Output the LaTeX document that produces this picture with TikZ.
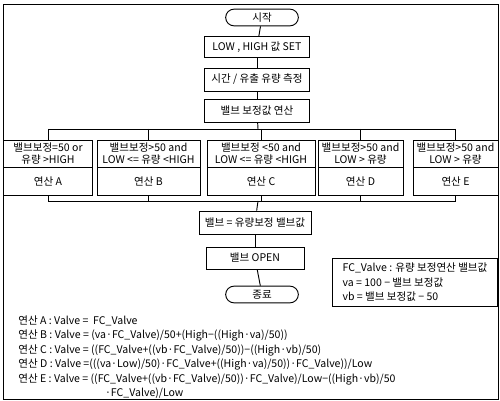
\documentclass[tikz,border=0pt]{standalone}
\usepackage{fontspec}
\setmainfont{Noto Sans CJK KR}
\usetikzlibrary{positioning,shapes.misc,calc}
\tikzset{myboxes/.style={draw,rectangle,inner sep=1pt,align=center,font=\fontsize{9}{10.8}\selectfont}}
\tikzset{myterms/.style={draw,rounded rectangle,minimum width=2.25cm,minimum height=0.5cm,inner sep=1pt,font=\fontsize{9}{10.8}\selectfont}}
\tikzset{mylines/.style={line width=0.8pt}}
\tikzset{mytexts/.style={align=left,inner sep=1pt,font=\fontsize{9}{12.4}\selectfont}}

\begin{document}
\begin{tikzpicture}[x=0.03cm,y=-0.03cm]
        \useasboundingbox (0,0) rectangle (500,401);
        \draw[mylines] (3,4) rectangle (498,399);
        % main column
        \node[myterms,mylines](start) at (262,17.5) {시작};
        \node[myboxes,mylines,minimum width=3.15cm,minimum height=0.63cm](set) at (257,47) {LOW , HIGH 값 SET};
        \node[myboxes,mylines,minimum width=3.15cm,minimum height=0.69cm](meas) at (257,79.5) {시간 / 유출 유량 측정};
        \node[myboxes,mylines,minimum width=3.15cm,minimum height=0.69cm](corr) at (257,110.5) {밸브 보정값 연산};
        \coordinate (tb) at (258,129);
        % five branches
        \node[myboxes,mylines,minimum width=2.67cm,minimum height=0.81cm](condA) at (48,153.5) {밸브보정=50 or\\유량 >HIGH};
        \node[myboxes,mylines,minimum width=3.09cm,minimum height=0.81cm](condB) at (148.5,153.5) {밸브보정>50 and\\LOW <= 유량 <HIGH};
        \node[myboxes,mylines,minimum width=3.24cm,minimum height=0.81cm](condC) at (261,153.5) {밸브보정 <50 and\\LOW <= 유량 <HIGH};
        \node[myboxes,mylines,minimum width=2.55cm,minimum height=0.81cm](condD) at (360.5,153.5) {밸브보정>50 and\\LOW > 유량};
        \node[myboxes,mylines,minimum width=2.55cm,minimum height=0.81cm](condE) at (455.5,153.5) {밸브보정>50 and\\LOW > 유량};
        \node[myboxes,mylines,minimum width=2.67cm,minimum height=0.84cm](opA) at (48,181) {연산 A};
        \node[myboxes,mylines,minimum width=3.09cm,minimum height=0.84cm](opB) at (148.5,181) {연산 B};
        \node[myboxes,mylines,minimum width=3.24cm,minimum height=0.84cm](opC) at (261,181) {연산 C};
        \node[myboxes,mylines,minimum width=2.55cm,minimum height=0.84cm](opD) at (360.5,181) {연산 D};
        \node[myboxes,mylines,minimum width=2.55cm,minimum height=0.84cm](opE) at (455.5,181) {연산 E};
        \coordinate (bb) at (258,201);
        % lower column
        \node[myboxes,mylines,minimum width=3.36cm,minimum height=0.69cm](valve) at (255,222.5) {밸브 = 유량보정 밸브값};
        \node[myboxes,mylines,minimum width=2.94cm,minimum height=0.66cm](open) at (255,258) {밸브 OPEN};
        \node[myterms,mylines](stop) at (262,294.5) {종료};
        \node[myboxes,mytexts,mylines,draw,anchor=north west,minimum width=4.95cm,minimum height=1.44cm,inner sep=2pt](legend) at (332,258)
            {FC\_Valve : 유량 보정연산 밸브값\\va = 100 − 밸브 보정값\\vb = 밸브 보정값 − 50};
        \node[mytexts,anchor=north west](formulas) at (17,314)
            {연산 A : Valve =\ \ FC\_Valve\\
             연산 B : Valve = (va·FC\_Valve)/50+(High−((High·va)/50))\\
             연산 C : Valve = ((FC\_Valve+((vb·FC\_Valve)/50))−((High·vb)/50)\\
             연산 D : Valve =(((va·Low)/50)·FC\_Valve+((High·va)/50))·FC\_Valve))/Low\\
             연산 E : Valve = ((FC\_Valve+((vb·FC\_Valve)/50))·FC\_Valve)/Low−((High·vb)/50\\
             \hspace{2.6cm}·FC\_Valve)/Low};
        % connectors
        \draw[mylines] (start) -- (set);
        \draw[mylines] (set) -- (meas);
        \draw[mylines] (meas) -- (corr);
        \draw[mylines] (corr) -- (tb);
        \draw[mylines] (condA.north |- tb) -- (condE.north |- tb);
        \draw[mylines] (condA.north |- tb) -- (condA);
        \draw[mylines] (condB.north |- tb) -- (condB);
        \draw[mylines] (condC.north |- tb) -- (condC);
        \draw[mylines] (condD.north |- tb) -- (condD);
        \draw[mylines] (condE.north |- tb) -- (condE);
        \draw[mylines] (opA) -- (opA.south |- bb);
        \draw[mylines] (opB) -- (opB.south |- bb);
        \draw[mylines] (opC) -- (opC.south |- bb);
        \draw[mylines] (opD) -- (opD.south |- bb);
        \draw[mylines] (opE) -- (opE.south |- bb);
        \draw[mylines] (opA.south |- bb) -- (opE.south |- bb);
        \draw[mylines] (bb) -- (valve);
        \draw[mylines] (valve) -- (open);
        \draw[mylines] (open) -- (stop);
    \end{tikzpicture}
\end{document}
